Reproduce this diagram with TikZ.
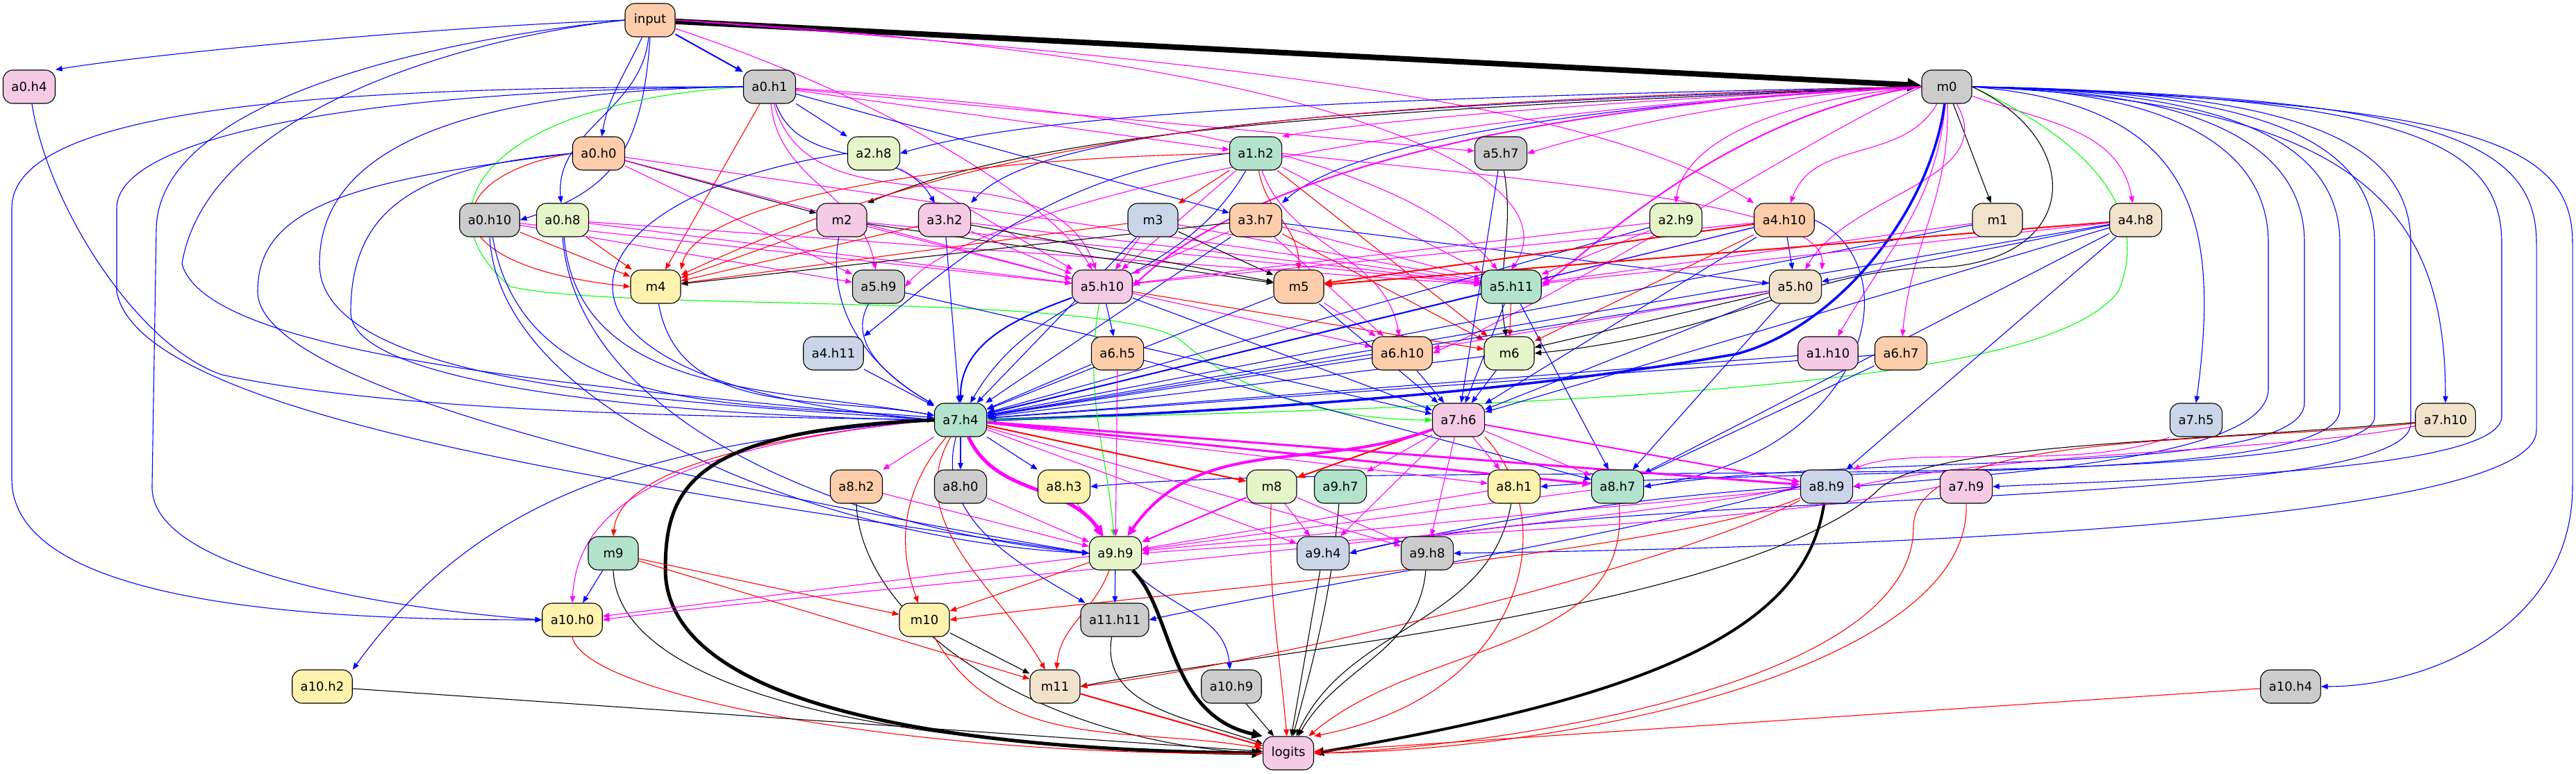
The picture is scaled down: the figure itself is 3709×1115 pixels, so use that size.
\documentclass[tikz,border=0pt]{standalone}
\usepackage{fontspec}
\setmainfont{DejaVu Sans}
\usetikzlibrary{arrows.meta}
\pgfdeclarelayer{bg}
\pgfsetlayers{bg,main}
\definecolor{cA}{HTML}{B3E2CD}
\definecolor{cB}{HTML}{FDCDAC}
\definecolor{cC}{HTML}{CBD5E8}
\definecolor{cD}{HTML}{F4CAE4}
\definecolor{cE}{HTML}{E6F5C9}
\definecolor{cF}{HTML}{FFF2AE}
\definecolor{cG}{HTML}{F1E2CC}
\definecolor{cH}{HTML}{CCCCCC}
\definecolor{eBlue}{HTML}{0000FF}
\definecolor{eMag}{HTML}{FF00FF}
\definecolor{eRed}{HTML}{FF0000}
\definecolor{eGrn}{HTML}{00FF00}
\tikzset{
  nd/.style={draw, rounded corners=14pt, minimum width=72pt, minimum height=48pt, inner xsep=12pt, line width=1.1pt, font=\fontsize{18}{21}\selectfont},
  tp/.style={-{Triangle[length=8pt 1.5,width=6pt 1.5]}},
  bl1/.style={tp, draw=eBlue, line width=1.1pt},
  bl2/.style={tp, draw=eBlue, line width=2pt},
  bl4/.style={tp, draw=eBlue, line width=3.5pt},
  mg1/.style={tp, draw=eMag, line width=1.1pt},
  mg2/.style={tp, draw=eMag, line width=2pt},
  mg3/.style={tp, draw=eMag, line width=3pt},
  mg4/.style={tp, draw=eMag, line width=4pt},
  mg5/.style={tp, draw=eMag, line width=5pt},
  rd1/.style={tp, draw=eRed, line width=1.1pt},
  rd2/.style={tp, draw=eRed, line width=2pt},
  bk1/.style={tp, draw=black, line width=1.1pt},
  bk4/.style={tp, draw=black, line width=4pt},
  bk5/.style={tp, draw=black, line width=5pt},
  bk8/.style={tp, draw=black, line width=8pt},
  gr1/.style={tp, draw=eGrn, line width=1.1pt},
}
\begin{document}
\begin{tikzpicture}[x=1pt,y=-1pt]
\useasboundingbox (0,0) rectangle (3709,1115);
% nodes
\node[nd, fill=cB] (in) at (936,29) {input};
\node[nd, fill=cD] (a0h4) at (42,125) {a0.h4};
\node[nd, fill=cH] (a0h1) at (1108,125) {a0.h1};
\node[nd, fill=cH] (m0) at (2803,125) {m0};
\node[nd, fill=cB] (a0h0) at (862,221) {a0.h0};
\node[nd, fill=cE] (a2h8) at (1258,221) {a2.h8};
\node[nd, fill=cA] (a1h2) at (1808,221) {a1.h2};
\node[nd, fill=cH] (a5h7) at (2161,221) {a5.h7};
\node[nd, fill=cH] (a0h10) at (705,317) {a0.h10};
\node[nd, fill=cE] (a0h8) at (810,317) {a0.h8};
\node[nd, fill=cD] (m2) at (1212,317) {m2};
\node[nd, fill=cD] (a3h2) at (1360,317) {a3.h2};
\node[nd, fill=cC] (m3) at (1660,317) {m3};
\node[nd, fill=cB] (a3h7) at (1808,317) {a3.h7};
\node[nd, fill=cE] (a2h9) at (2413,317) {a2.h9};
\node[nd, fill=cB] (a4h10) at (2569,317) {a4.h10};
\node[nd, fill=cG] (m1) at (2876,317) {m1};
\node[nd, fill=cG] (a4h8) at (3075,317) {a4.h8};
\node[nd, fill=cF] (m4) at (944,413) {m4};
\node[nd, fill=cH] (a5h9) at (1265,413) {a5.h9};
\node[nd, fill=cD] (a5h10) at (1587,413) {a5.h10};
\node[nd, fill=cB] (m5) at (1870,413) {m5};
\node[nd, fill=cA] (a5h11) at (2176,413) {a5.h11};
\node[nd, fill=cG] (a5h0) at (2585,413) {a5.h0};
\node[nd, fill=cC] (a4h11) at (1200,509) {a4.h11};
\node[nd, fill=cB] (a6h5) at (1609,509) {a6.h5};
\node[nd, fill=cB] (a6h10) at (2019,509) {a6.h10};
\node[nd, fill=cE] (m6) at (2173,509) {m6};
\node[nd, fill=cD] (a1h10) at (2632,509) {a1.h10};
\node[nd, fill=cB] (a6h7) at (2737,509) {a6.h7};
\node[nd, fill=cA] (a7h4) at (1383,605) {a7.h4};
\node[nd, fill=cD] (a7h6) at (2100,605) {a7.h6};
\node[nd, fill=cC] (a7h5) at (3162,605) {a7.h5};
\node[nd, fill=cG] (a7h10) at (3521,605) {a7.h10};
\node[nd, fill=cB] (a8h2) at (1233,701) {a8.h2};
\node[nd, fill=cH] (a8h0) at (1383,701) {a8.h0};
\node[nd, fill=cF] (a8h3) at (1532,701) {a8.h3};
\node[nd, fill=cE] (m8) at (1831,701) {m8};
\node[nd, fill=cA] (a9h7) at (1930,701) {a9.h7};
\node[nd, fill=cF] (a8h1) at (2180,701) {a8.h1};
\node[nd, fill=cA] (a8h7) at (2329,701) {a8.h7};
\node[nd, fill=cC] (a8h9) at (2630,701) {a8.h9};
\node[nd, fill=cD] (a7h9) at (2831,701) {a7.h9};
\node[nd, fill=cA] (m9) at (883,797) {m9};
\node[nd, fill=cE] (a9h9) at (1606,797) {a9.h9};
\node[nd, fill=cC] (a9h4) at (1905,797) {a9.h4};
\node[nd, fill=cH] (a9h8) at (2055,797) {a9.h8};
\node[nd, fill=cF] (a10h0) at (824,893) {a10.h0};
\node[nd, fill=cF] (m10) at (1331,893) {m10};
\node[nd, fill=cH] (a11h11) at (1605,893) {a11.h11};
\node[nd, fill=cF] (a10h2) at (464,989) {a10.h2};
\node[nd, fill=cG] (m11) at (1519,989) {m11};
\node[nd, fill=cH] (a10h9) at (1773,989) {a10.h9};
\node[nd, fill=cH] (a10h4) at (3298,989) {a10.h4};
\node[nd, fill=cD] (logits) at (1855,1085) {logits};

\begin{pgfonlayer}{bg}
% input
\draw[bk8] (in) -- (m0);
\draw[bl2] (in) -- (a0h1);
\draw[bl1] (in.west) .. controls (600,40) and (200,80) .. (a0h4.north east);
\draw[bl1] (in) to[out=-115,in=80] (a0h0);
\draw[bl1] (in) to[out=-95,in=95] (a0h8);
\draw[bl1] (in.south) .. controls (925,220) and (880,275) .. (a0h10.east);
\draw[bl1] (in.west) .. controls (600,60) and (228,150) .. (225,330) -- (219,700) .. controls (215,830) and (600,880) .. (a10h0.west);
\draw[bl1] (in.west) .. controls (700,50) and (300,150) .. (262,380) .. controls (300,520) and (900,560) .. (a7h4.west);
\draw[mg1] (in) .. controls (1300,150) and (1520,300) .. (a5h10);
\draw[mg1] (in.east) .. controls (1900,80) and (2270,250) .. (a5h11.north);
\draw[mg1] (in.east) .. controls (1800,90) and (2300,150) .. (a4h10.north west);
% a0.h1
\draw[bl1] (a0h1) -- (a2h8);
\draw[bl1] (a0h1) to[out=-70,in=120] (a3h2);
\draw[bl1] (a0h1) -- (a3h7);
\draw[mg1] (a0h1) -- (a1h2);
\draw[mg1] (a0h1) -- (a5h7);
\draw[rd1] (a0h1) -- (m4);
\draw[mg1] (a0h1) to[out=-85,in=100] (a5h9);
\draw[mg1] (a0h1) to[out=-75,in=110] (a5h10);
\draw[mg1] (a0h1) .. controls (1500,150) and (2000,200) .. (a5h11);
\draw[gr1] (a0h1.west) .. controls (700,150) and (600,300) .. (735,413) .. controls (900,450) and (1600,420) .. (1700,490) .. controls (1800,580) and (1950,605) .. (a7h6.west);
\draw[bl1] (a0h1.west) .. controls (500,125) and (17,150) .. (17,300) -- (17,690) .. controls (17,880) and (500,893) .. (a10h0.west);
\draw[bl1] (a0h1.west) .. controls (500,130) and (168,200) .. (168,300) -- (168,420) .. controls (200,600) and (900,700) .. (a9h9.west);
\draw[bl1] (a0h1.west) .. controls (700,130) and (460,200) .. (460,380) .. controls (460,560) and (1000,580) .. (a7h4.west);
% a0.h0
\draw[bk1] (a0h0) -- (m2);
\draw[rd1] (a0h0.west) .. controls (640,250) and (600,380) .. (m4.west);
\draw[mg1] (a0h0) -- (a5h9);
\draw[mg1] (a0h0) -- (a5h10);
\draw[mg1] (a0h0) -- (a5h11);
\draw[bl1] (a0h0.west) .. controls (600,240) and (505,300) .. (505,450) .. controls (505,560) and (1000,600) .. (a7h4.west);
\draw[bl1] (a0h0.west) .. controls (500,260) and (371,300) .. (371,420) .. controls (371,560) and (1000,700) .. (a9h9.west);
% a0.h10
\draw[rd1] (a0h10) -- (m4);
\draw[mg1] (a0h10) -- (a5h10);
\draw[mg1] (a0h10) -- (a5h9);
\draw[bl1] (a0h10) to[out=-80,in=175] (a7h4);
\draw[bl1] (a0h10.south) .. controls (720,600) and (1200,780) .. (a9h9.west);
% a0.h8
\draw[rd1] (a0h8) -- (m4);
\draw[mg1] (a0h8) -- (a5h10);
\draw[mg1] (a0h8) -- (a5h11);
\draw[bl1] (a0h8) to[out=-85,in=170] (a7h4);
\draw[bl1] (a0h8.south) .. controls (830,600) and (1200,760) .. (a9h9.west);
% a0.h4
\draw[bl1] (a0h4) .. controls (70,300) and (200,500) .. (320,540) .. controls (600,600) and (1100,600) .. (a7h4.west);
% a2.h8
\draw[mg1] (a2h8) -- (a5h10);
\draw[bl1] (a2h8.west) .. controls (800,280) and (700,550) .. (a7h4.west);
% m0
\draw[bl1] (m0.west) .. controls (2000,140) and (1500,160) .. (a2h8.east);
\draw[mg1] (m0.west) .. controls (2400,140) and (2000,170) .. (a1h2.north east);
\draw[mg1] (m0.west) .. controls (2500,140) and (2300,190) .. (a5h7.east);
\draw[bk1] (m0.west) .. controls (1900,160) and (1500,190) .. (m2.north east);
\draw[bl1] (m0.west) .. controls (2000,150) and (1500,180) .. (a3h2.north east);
\draw[bl1] (m0.west) .. controls (2300,150) and (1950,200) .. (a3h7.north east);
\draw[mg1] (m0.west) .. controls (2500,150) and (2420,230) .. (a2h9.north);
\draw[mg1] (m0) to[out=-120,in=70] (a4h10);
\draw[bk1] (m0) -- (m1);
\draw[mg1] (m0) to[out=-20,in=100] (a4h8);
\draw[rd1] (m0.west) .. controls (1800,150) and (1400,200) .. (m4);
\draw[mg2] (m0.west) .. controls (2200,150) and (1800,250) .. (a5h10.east);
\draw[mg2] (m0.west) .. controls (2500,160) and (2300,350) .. (a5h11.east);
\draw[mg1] (m0.west) .. controls (2000,160) and (1400,300) .. (a5h9.east);
\draw[mg1] (m0) to[out=-60,in=60] (a5h0);
\draw[mg1] (m0.west) .. controls (2600,200) and (2300,400) .. (a6h10.east);
\draw[mg1] (m0) to[out=-95,in=60] (a1h10);
\draw[mg1] (m0) to[out=-88,in=85] (a6h7);
\draw[bl4] (m0) .. controls (2780,300) and (2650,470) .. (2500,510) .. controls (2100,580) and (1600,600) .. (a7h4.east);
\draw[gr1] (m0.east) .. controls (3000,200) and (3100,300) .. (3050,420) .. controls (2950,550) and (2400,580) .. (a7h4.east);
\draw[bk1] (m0.east) .. controls (3000,200) and (3000,370) .. (2800,385) .. controls (2600,385) and (2500,480) .. (m6.east);
\draw[bl1] (m0.east) .. controls (3150,150) and (3200,300) .. (a7h5.north);
\draw[bl1] (m0.east) .. controls (3400,150) and (3521,300) .. (a7h10.north);
\draw[bl1] (m0.east) .. controls (3100,130) and (3266,200) .. (3266,350) -- (3266,560) .. controls (3266,660) and (2900,680) .. (a8h9.east);
\draw[bl1] (m0.east) .. controls (3150,130) and (3318,200) .. (3318,350) -- (3318,580) .. controls (3318,690) and (2700,650) .. (a8h7.east);
\draw[bl1] (m0.east) .. controls (3200,130) and (3369,200) .. (3369,350) -- (3369,590) .. controls (3369,700) and (2600,670) .. (a8h1.east);
\draw[bl1] (m0.east) .. controls (3250,130) and (3419,200) .. (3419,350) -- (3419,600) .. controls (3419,720) and (2000,660) .. (a8h3.east);
\draw[bl1] (m0.east) .. controls (3300,130) and (3471,200) .. (3471,350) -- (3471,610) .. controls (3471,740) and (2300,700) .. (a9h4.east);
\draw[bl1] (m0.east) .. controls (3450,140) and (3602,200) .. (3602,350) -- (3602,600) .. controls (3602,680) and (3100,690) .. (a7h9.east);
\draw[bl1] (m0.east) .. controls (3500,140) and (3652,200) .. (3652,350) -- (3652,620) .. controls (3652,760) and (2600,790) .. (a9h8.east);
\draw[bl1] (m0.east) .. controls (3550,150) and (3704,200) .. (3704,350) -- (3704,700) .. controls (3704,900) and (3500,989) .. (a10h4.east);
% a1.h2
\draw[rd1] (a1h2) -- (m3);
\draw[bl1] (a1h2.west) .. controls (1500,250) and (1350,400) .. (a4h11.north east);
\draw[rd1] (a1h2.west) .. controls (1300,230) and (1000,300) .. (m4.north east);
\draw[rd1] (a1h2) to[out=-80,in=90] (m5);
\draw[mg1] (a1h2) -- (a5h10);
\draw[mg1] (a1h2) -- (a5h11);
\draw[rd1] (a1h2) -- (m6);
\draw[mg1] (a1h2) to[out=-70,in=100] (a6h10);
\draw[bl1] (a1h2) to[out=-120,in=60] (a7h4);
\draw[mg1] (a1h2.east) .. controls (2200,260) and (2630,290) .. (a5h0.north east);
% a5.h7
\draw[bk1] (a5h7) to[out=-80,in=100] (m6);
\draw[bl1] (a5h7) -- (a7h6);
% m2
\draw[rd1] (m2) -- (m4);
\draw[mg1] (m2) -- (a5h10);
\draw[bk1] (m2) -- (m5);
\draw[mg1] (m2) -- (a5h11);
\draw[bl1] (m2) to[out=-100,in=150] (a7h4);
% a3.h2
\draw[rd1] (a3h2) -- (m4);
\draw[mg1] (a3h2) -- (a5h10);
\draw[bk1] (a3h2) -- (m5);
\draw[mg1] (a3h2) -- (a5h11);
\draw[bl1] (a3h2) -- (a7h4);
% m3
\draw[rd1] (m3) -- (m4);
\draw[mg1] (m3) -- (a5h10);
\draw[mg1] (m3) -- (a5h11);
\draw[bk1] (m3) -- (m5);
\draw[bl1] (m3) -- (a7h4);
% a3.h7
\draw[bk1] (a3h7) -- (m4);
\draw[mg1] (a3h7) -- (a5h10);
\draw[mg1] (a3h7) -- (a5h11);
\draw[bl1] (a3h7) -- (a5h0);
\draw[mg1] (a3h7) -- (a6h10);
\draw[bl1] (a3h7) -- (a7h4);
\draw[rd1] (a3h7) -- (m6);
% a2.h9
\draw[mg1] (a2h9) -- (a5h10);
\draw[mg1] (a2h9) -- (a5h11);
\draw[bl1] (a2h9) -- (a7h4);
% a4.h10
\draw[rd2] (a4h10) -- (m5);
\draw[mg1] (a4h10) -- (a5h11);
\draw[mg1] (a4h10) -- (a5h10);
\draw[rd1] (a4h10) -- (m6);
\draw[bl1] (a4h10) -- (a5h0);
\draw[bl1] (a4h10) -- (a7h4);
\draw[bl1] (a4h10) -- (a7h6);
\draw[bl1] (a4h10.east) .. controls (2750,380) and (2700,650) .. (a8h7.east);
% m1
\draw[mg1] (m1) -- (a5h11);
\draw[bl1] (m1) -- (a7h4);
% a4.h8
\draw[rd2] (a4h8) -- (m5);
\draw[bl1] (a4h8) -- (a5h0);
\draw[mg1] (a4h8) -- (a5h11);
\draw[bl1] (a4h8) -- (a7h4);
\draw[bl1] (a4h8) -- (a7h6);
\draw[bl1] (a4h8) -- (a8h7);
\draw[bl1] (a4h8) -- (a8h9);
% layer 4-6
\draw[bl1] (m4) to[out=-80,in=170] (a7h4);
\draw[bl1] (a5h9) to[out=-120,in=150] (a7h4);
\draw[bl1] (a5h9) -- (a7h6);
\draw[bl1] (a5h10) -- (a6h5);
\draw[bl2] (a5h10) to[out=-160,in=90] (a7h4);
\draw[bl1] (a5h10) -- (a7h6);
\draw[gr1] (a5h10) to[out=-100,in=95] (a9h9);
\draw[rd1] (a5h10) -- (m6);
\draw[mg1] (a5h10) -- (a6h10);
\draw[bl1] (m5) -- (a7h4);
\draw[bl1] (m5) -- (a7h6);
\draw[mg1] (m5) -- (a6h10);
\draw[rd1] (a5h11) -- (m6);
\draw[bl2] (a5h11) -- (a7h4);
\draw[bl1] (a5h11) -- (a7h6);
\draw[bl1] (a5h11) -- (a8h7);
\draw[bk1] (a5h0) -- (m6);
\draw[bl1] (a5h0) -- (a7h4);
\draw[bl1] (a5h0) -- (a7h6);
\draw[bl1] (a5h0) -- (a8h7);
\draw[mg1] (a5h0) -- (a6h10);
\draw[bl1] (a4h11) -- (a7h4);
\draw[bl1] (a6h5) -- (a7h4);
\draw[mg1] (a6h5) -- (a9h9);
\draw[bl1] (a6h5) -- (a8h7);
\draw[bl1] (a6h10) -- (a7h6);
\draw[bl1] (a6h10) -- (a7h4);
\draw[bl1] (m6) -- (a7h6);
\draw[bl1] (m6) -- (a7h4);
\draw[bl1] (a1h10) -- (a7h4);
\draw[bl1] (a6h7) -- (a7h4);
\draw[bl1] (a6h7) -- (a8h7);
% a7.h4
\draw[mg1] (a7h4) -- (a8h2);
\draw[bl1] (a7h4) -- (a8h0);
\draw[bl1] (a7h4) -- (a8h3);
\draw[rd2] (a7h4) -- (m8);
\draw[mg1] (a7h4) -- (a8h1);
\draw[mg3] (a7h4) -- (a8h7);
\draw[mg3] (a7h4) -- (a8h9);
\draw[mg5] (a7h4) to[out=-65,in=125] (a9h9);
\draw[mg1] (a7h4) -- (a9h4);
\draw[mg1] (a7h4) -- (a9h8);
\draw[rd1] (a7h4.west) .. controls (1000,640) and (890,700) .. (m9.north);
\draw[mg1] (a7h4.west) .. controls (900,650) and (830,760) .. (a10h0.north);
\draw[bl1] (a7h4.west) .. controls (950,640) and (700,700) .. (a10h2.north east);
\draw[rd1] (a7h4) to[out=-130,in=110] (m10);
\draw[bl1] (a7h4) to[out=-105,in=150] (a11h11);
\draw[rd1] (a7h4) to[out=-120,in=120] (m11);
\draw[bk5] (a7h4.west) .. controls (1000,620) and (958,700) .. (958,820) .. controls (958,1000) and (1300,1080) .. (logits.west);
% a7.h6
\draw[rd2] (a7h6) -- (m8);
\draw[mg1] (a7h6) -- (a9h7);
\draw[mg1] (a7h6) -- (a8h1);
\draw[mg1] (a7h6) -- (a8h7);
\draw[mg2] (a7h6) -- (a8h9);
\draw[mg4] (a7h6) to[out=-160,in=55] (a9h9);
\draw[mg1] (a7h6) -- (a9h4);
\draw[mg1] (a7h6) -- (a9h8);
\draw[rd1] (a7h6.south east) .. controls (2250,750) and (2200,1000) .. (logits.north east);
% a7.h5 a7.h10
\draw[mg1] (a7h5.south west) .. controls (3000,680) and (2750,640) .. (a8h9.north east);
\draw[mg1] (a7h10) .. controls (3300,650) and (2900,650) .. (a8h9.east);
\draw[bk1] (a7h10) .. controls (3100,640) and (2760,640) .. (2700,710) .. controls (2500,880) and (1800,940) .. (m11.east);
\draw[rd1] (a7h10) .. controls (3200,640) and (2755,620) .. (2755,760) .. controls (2755,1000) and (2100,1080) .. (logits.east);
% row 7
\draw[mg1] (a8h2) -- (a9h9);
\draw[bk1] (a8h2.south) .. controls (1240,900) and (1500,1070) .. (logits.west);
\draw[mg1] (a8h0) -- (a9h9);
\draw[mg1] (a8h3) -- (a9h9);
\draw[mg2] (m8) -- (a9h9);
\draw[mg1] (m8) -- (a9h4);
\draw[mg1] (m8) -- (a9h8);
\draw[rd1] (m8) to[out=-92,in=95] (logits);
\draw[bk1] (a9h7) to[out=-95,in=75] (logits);
\draw[mg1] (a8h1) -- (a9h9);
\draw[bk1] (a8h1) to[out=-100,in=65] (logits);
\draw[mg1] (a8h7) -- (a9h9);
\draw[rd1] (a8h7) to[out=-85,in=40] (logits);
\draw[mg1] (a8h9) -- (a9h9);
\draw[bl1] (a8h9.west) .. controls (2300,720) and (2100,760) .. (a9h4.east);
\draw[mg1] (a8h9.west) .. controls (2300,760) and (1100,860) .. (a10h0.east);
\draw[bl1] (a8h9.west) .. controls (2300,780) and (1800,860) .. (a11h11.east);
\draw[rd1] (a8h9) .. controls (2400,800) and (1600,860) .. (m10.east);
\draw[rd1] (a8h9) .. controls (2400,820) and (1800,960) .. (m11.east);
\draw[bk4] (a8h9) .. controls (2600,900) and (2400,1000) .. (logits.east);
\draw[mg1] (a7h9.west) .. controls (2500,760) and (2000,770) .. (a9h9.east);
\draw[rd1] (a7h9.south) .. controls (2840,950) and (2300,1080) .. (logits.east);
% row 8
\draw[bl1] (m9) -- (a10h0);
\draw[rd1] (m9) -- (m10);
\draw[rd1] (m9) -- (m11);
\draw[bk1] (m9.south) .. controls (890,1000) and (1300,1080) .. (logits.west);
\draw[mg1] (a9h9) -- (a10h0);
\draw[rd1] (a9h9) -- (m10);
\draw[bl1] (a9h9) -- (a11h11);
\draw[rd1] (a9h9) to[out=-110,in=85] (m11);
\draw[bl1] (a9h9) to[out=-45,in=95] (a10h9);
\draw[bk5] (a9h9) .. controls (1690,880) and (1680,1030) .. (logits.north west);
\draw[bk1] (a9h4) -- (logits);
\draw[bk1] (a9h8) to[out=-95,in=60] (logits);
% rows 9-10
\draw[rd1] (a10h0.south) .. controls (840,1000) and (1300,1090) .. (logits.west);
\draw[bk1] (m10) -- (m11);
\draw[rd1] (m10) to[out=-60,in=170] (logits);
\draw[bk1] (a11h11) to[out=-100,in=160] (logits);
\draw[bk1] (a10h2) -- (logits);
\draw[rd2] (m11) -- (logits);
\draw[bk1] (a10h9) -- (logits);
\draw[rd1] (a10h4) -- (logits);
\end{pgfonlayer}
\end{tikzpicture}
\end{document}
